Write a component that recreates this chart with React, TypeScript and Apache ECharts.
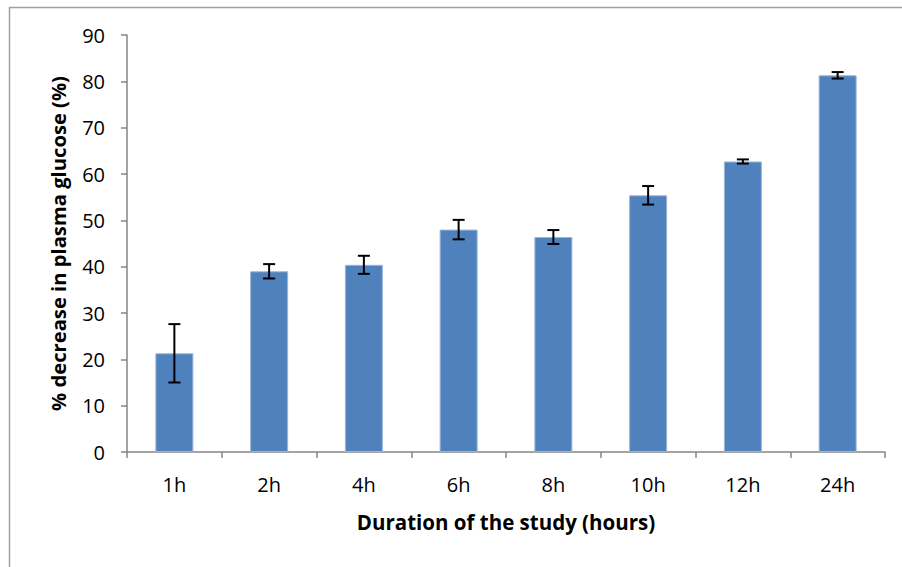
import React, { useEffect, useRef } from "react";
import * as echarts from "echarts";

const categories = ["1h", "2h", "4h", "6h", "8h", "10h", "12h", "24h"];
const values = [21.3, 39.0, 40.4, 48.0, 46.4, 55.4, 62.7, 81.3];
const errors = [6.3, 1.55, 1.95, 2.1, 1.5, 2.0, 0.45, 0.7];
const yTicks = { min: 0, max: 90, interval: 10 };

export default function App() {
  const ref = useRef<HTMLDivElement>(null);
  useEffect(() => {
    const chart = echarts.init(ref.current!, null, { renderer: "svg" });
    const errData = values.map((v, i) => [i, v - errors[i], v + errors[i]]);
    chart.setOption({
      animation: false,
      backgroundColor: "#ffffff",
      textStyle: { fontFamily: "Open Sans" },
      graphic: [
        {
          type: "rect",
          shape: { x: 9.5, y: 7.5, width: 1000, height: 1000 },
          style: { fill: "none", stroke: "#a0a0a0", lineWidth: 1.5 },
          silent: true,
        },
      ],
      grid: { left: 127, right: 17, top: 35, bottom: 115 },
      xAxis: {
        type: "category",
        data: categories,
        axisLine: { lineStyle: { color: "#868686", width: 1.5 } },
        axisTick: { show: true, length: 6, lineStyle: { color: "#868686", width: 1.5 } },
        axisLabel: { color: "#000", fontSize: 20, margin: 22, fontFamily: "Open Sans" },
        name: "Duration of the study (hours)",
        nameLocation: "middle",
        nameGap: 59,
        nameTextStyle: { color: "#000", fontSize: 20.5, fontWeight: "bold", fontFamily: "Open Sans" },
      },
      yAxis: {
        type: "value",
        min: yTicks.min,
        max: yTicks.max,
        interval: yTicks.interval,
        splitLine: { show: false },
        axisLine: { show: true, lineStyle: { color: "#868686", width: 1.5 } },
        axisTick: { show: true, length: 6, lineStyle: { color: "#868686", width: 1.5 } },
        axisLabel: { color: "#000", fontSize: 20, margin: 22, fontFamily: "Open Sans" },
        name: "% decrease in plasma glucose (%)",
        nameLocation: "middle",
        nameGap: 59,
        nameTextStyle: { color: "#000", fontSize: 20.2, fontWeight: "bold", fontFamily: "Open Sans" },
      },
      series: [
        {
          type: "bar",
          data: values,
          barWidth: 38,
          itemStyle: { color: "#4F81BD", borderColor: "#9bb5d8", borderWidth: 1 },
        },
        {
          type: "custom",
          data: errData,
          z: 10,
          renderItem: (params: any, api: any) => {
            const x = api.value(0);
            const lo = api.coord([x, api.value(1)]);
            const hi = api.coord([x, api.value(2)]);
            const cap = 6;
            const style = { stroke: "#000", lineWidth: 2 };
            return {
              type: "group",
              children: [
                { type: "line", shape: { x1: lo[0], y1: lo[1], x2: hi[0], y2: hi[1] }, style },
                { type: "line", shape: { x1: lo[0] - cap, y1: lo[1], x2: lo[0] + cap, y2: lo[1] }, style },
                { type: "line", shape: { x1: hi[0] - cap, y1: hi[1], x2: hi[0] + cap, y2: hi[1] }, style },
              ],
            };
          },
        },
      ],
    });
    return () => chart.dispose();
  }, []);
  return (
    <div
      ref={ref}
      style={{ position: "absolute", left: 0, top: 0, width: 902, height: 567 }}
    />
  );
}
